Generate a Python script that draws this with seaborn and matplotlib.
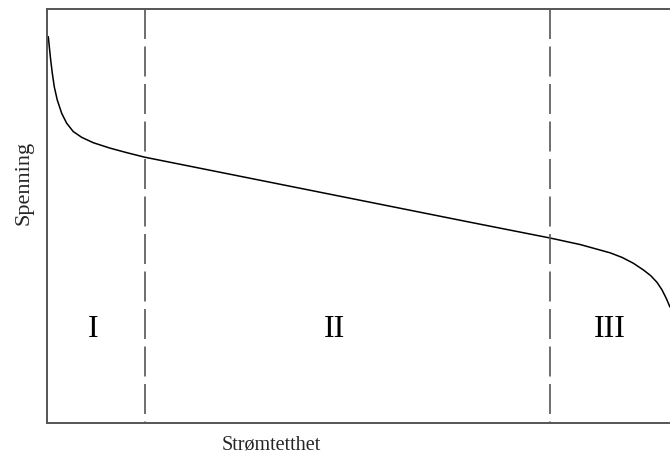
import matplotlib
matplotlib.use("Agg")
import matplotlib.pyplot as plt
import seaborn as sns

# polarisation curve (arbitrary units 0-100)
current = [0.21, 0.37, 0.59, 0.85, 1.17, 1.65, 2.36, 3.16, 4.21, 5.57, 7.43,
           10.1, 12.8, 15.7, 67.9, 80.7, 85.6, 88.0, 90.4, 92.3, 94.1, 95.7,
           96.9, 97.9, 98.7, 99.4, 100.0]
voltage = [93.3, 90.9, 87.7, 84.5, 81.2, 78.0, 74.8, 72.4, 70.4, 69.0, 67.7,
           66.4, 65.3, 64.2, 48.5, 44.7, 43.1, 42.1, 41.1, 40.0, 38.6, 37.0,
           35.6, 34.0, 32.2, 30.1, 28.0]

region_edges = [15.7, 80.7]
region_names = ["I", "II", "III"]
region_centers = [7.4, 46.2, 90.4]
label_level = 22.7

sns.set_style("white")
plt.rcParams['font.family'] = ['Liberation Serif', 'DejaVu Serif']

fig = plt.figure(figsize=(6.7, 4.61), dpi=100)
ax = fig.add_axes([47 / 670, 38 / 461, 623 / 670, 414 / 461])

sns.lineplot(x=current, y=voltage, color='black', linewidth=1.1, ax=ax)

for edge in region_edges:
    ax.plot([edge, edge], [100, 0], color='#555555', linewidth=1.2,
            linestyle=(0, (18, 4.5)))

for name, xc in zip(region_names, region_centers):
    ax.text(xc, label_level, name, ha='center', va='center', fontsize=23,
            color='black')

ax.set_xlim(0, 100)
ax.set_ylim(0, 100)
ax.set_xticks([])
ax.set_yticks([])
ax.spines['right'].set_visible(False)
for side in ['left', 'top', 'bottom']:
    ax.spines[side].set_color('#555555')
    ax.spines[side].set_linewidth(1.4)

ax.set_xlabel('Strømtetthet', fontsize=14.5, labelpad=9, x=0.36)
ax.set_ylabel('Spenning', fontsize=16, labelpad=10, y=0.58)

fig.savefig('out.png', dpi=100, facecolor='white')
